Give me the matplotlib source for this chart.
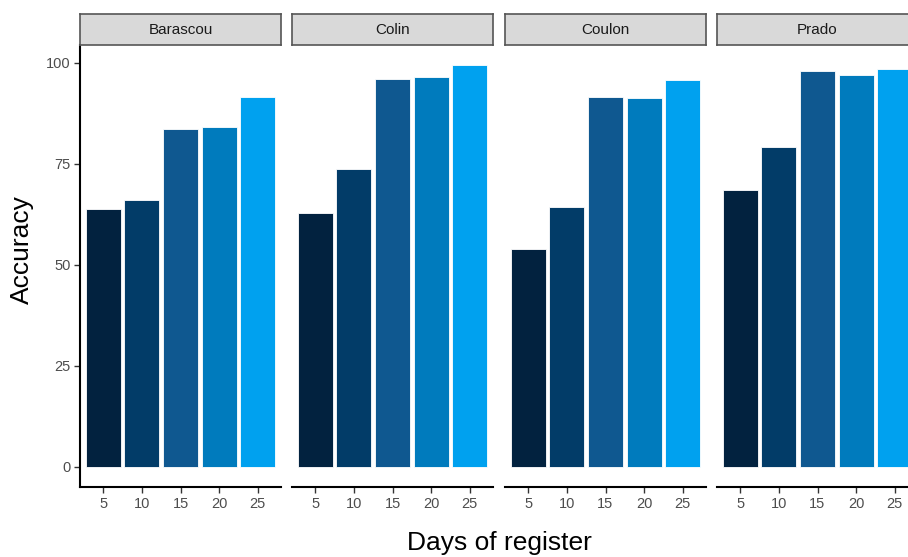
import numpy as np
import matplotlib
matplotlib.use("Agg")
import matplotlib.pyplot as plt

plt.rcParams['font.family'] = ['Liberation Sans', 'DejaVu Sans']

# Data
panels = ["Barascou", "Colin", "Coulon", "Prado"]
days = ["5", "10", "15", "20", "25"]
barascou = [63.8, 66.0, 83.5, 84.0, 91.6]
colin = [62.7, 73.7, 96.0, 96.4, 99.4]
coulon = [53.8, 64.2, 91.5, 91.2, 95.6]
prado = [68.4, 79.1, 97.9, 97.0, 98.4]
values = [barascou, colin, coulon, prado]
colors = ["#02223F", "#023C68", "#0F5890", "#007BBD", "#00A1EF"]

W, H = 908, 557
fig = plt.figure(figsize=(W / 100, H / 100), dpi=100)

ymax = max(max(v) for v in values)
ylo, yhi = -0.05 * ymax, ymax * 1.05

lefts = [80, 292, 505, 717]
pw = 201
top, bottom = 45, 487
strip_top = 14

x = np.arange(len(days))
for i, (name, vals) in enumerate(zip(panels, values)):
    ax = fig.add_axes([lefts[i] / W, 1 - bottom / H, pw / W, (bottom - top) / H])
    ax.bar(x, vals, width=0.9, color=colors, edgecolor="white", linewidth=0.6)
    ax.set_xlim(-0.6, len(days) - 0.4)
    ax.set_ylim(ylo, yhi)
    ax.set_xticks(x)
    ax.set_xticklabels(days)
    for s in ["top", "right"]:
        ax.spines[s].set_visible(False)
    ax.spines["bottom"].set_linewidth(1.5)
    ax.tick_params(axis="x", length=4, width=1, color="#333333",
                   labelsize=10.5, labelcolor="#4D4D4D", pad=3)
    if i == 0:
        ax.spines["left"].set_linewidth(1.5)
        ax.set_yticks([0, 25, 50, 75, 100])
        ax.tick_params(axis="y", length=4.5, width=1, color="#333333",
                       labelsize=10.5, labelcolor="#4D4D4D", pad=2)
    else:
        ax.spines["left"].set_visible(False)
        ax.set_yticks([])

    # facet strip
    sax = fig.add_axes([lefts[i] / W, 1 - top / H, pw / W, (top - strip_top) / H])
    sax.set_facecolor("#D9D9D9")
    sax.set_xticks([])
    sax.set_yticks([])
    for s in sax.spines.values():
        s.set_color("#555555")
        s.set_linewidth(1.2)
    sax.text(0.5, 0.5, name, ha="center", va="center", fontsize=11,
             color="#1A1A1A", transform=sax.transAxes)

fig.text(499 / W, 1 - 543 / H, "Days of register", ha="center", va="center",
         fontsize=19)
fig.text(22 / W, 1 - 250 / H, "Accuracy", ha="center", va="center",
         rotation=90, fontsize=19)

fig.savefig("out.png", dpi=100)
